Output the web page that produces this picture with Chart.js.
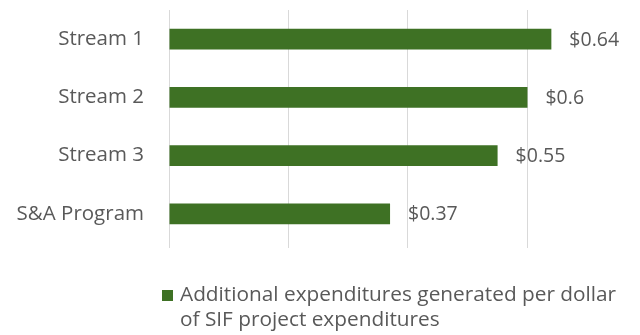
<!DOCTYPE html>
<html>
<head>
<meta charset="utf-8">
<script src="https://cdn.jsdelivr.net/npm/chart.js@4/dist/chart.umd.min.js"></script>
<style>
  html, body { margin: 0; padding: 0; background: #ffffff; }
  #wrap { width: 640px; height: 335px; position: relative; }
</style>
</head>
<body>
<div id="wrap"><canvas id="c" width="640" height="335"></canvas></div>
<script>
const categories = ["Stream 1", "Stream 2", "Stream 3", "S&A Program"];
const values = [0.64, 0.6, 0.55, 0.37];
const seriesName = ["Additional expenditures generated per dollar", "of SIF project expenditures"];
const gridTicks = [0, 0.2, 0.4, 0.6];

const FONT = "'Open Sans', 'Noto Sans', sans-serif";
const TEXT = "#595959";
const GREEN = "#3e7124";

const valueLabels = {
  id: 'valueLabels',
  afterDatasetsDraw(chart) {
    const ctx = chart.ctx;
    const meta = chart.getDatasetMeta(0);
    ctx.save();
    ctx.font = "19.5px " + FONT;
    ctx.fillStyle = TEXT;
    ctx.textAlign = 'left';
    ctx.textBaseline = 'middle';
    meta.data.forEach((bar, i) => {
      ctx.fillText('$' + values[i], bar.x + 18, bar.y + 1);
    });
    ctx.restore();
  }
};

// Two-line legend drawn below the plot (series colour + series name)
const bottomLegend = {
  id: 'bottomLegend',
  afterDraw(chart) {
    const ctx = chart.ctx;
    const area = chart.chartArea;
    const ds = chart.data.datasets[0];
    const boxX = area.left - 7, boxY = area.bottom + 47, box = 11;
    ctx.save();
    ctx.fillStyle = ds.backgroundColor;
    ctx.fillRect(boxX, boxY, box, box);
    ctx.font = "20.8px " + FONT;
    ctx.fillStyle = TEXT;
    ctx.textAlign = 'left';
    ctx.textBaseline = 'middle';
    seriesName.forEach((line, i) => {
      ctx.fillText(line, boxX + box + 7, boxY + box / 2 + i * 25);
    });
    ctx.restore();
  }
};

new Chart(document.getElementById('c'), {
  type: 'bar',
  data: {
    labels: categories,
    datasets: [{
      label: seriesName.join(' '),
      data: values,
      backgroundColor: GREEN,
      borderWidth: 0,
      barPercentage: 0.36,
      categoryPercentage: 1
    }]
  },
  options: {
    indexAxis: 'y',
    responsive: false,
    animation: false,
    devicePixelRatio: 1,
    layout: { padding: { left: 0, right: 5, top: 10, bottom: 87 } },
    scales: {
      x: {
        min: 0,
        max: 0.78,
        afterBuildTicks(scale) { scale.ticks = gridTicks.map(v => ({ value: v })); },
        afterFit(scale) { scale.height = 5; scale.paddingLeft = 0; scale.paddingRight = 0; },
        grid: { color: '#d9d9d9', lineWidth: 1, drawTicks: true, tickLength: 5 },
        border: { display: false },
        ticks: { display: false }
      },
      y: {
        afterFit(scale) { scale.width = 169; scale.paddingTop = 0; scale.paddingBottom = 0; },
        grid: { display: false, drawTicks: false },
        border: { display: false },
        ticks: { color: TEXT, font: { family: FONT, size: 20.5 }, padding: 25 }
      }
    },
    plugins: {
      legend: { display: false },
      tooltip: { enabled: false }
    }
  },
  plugins: [valueLabels, bottomLegend]
});
</script>
</body>
</html>
